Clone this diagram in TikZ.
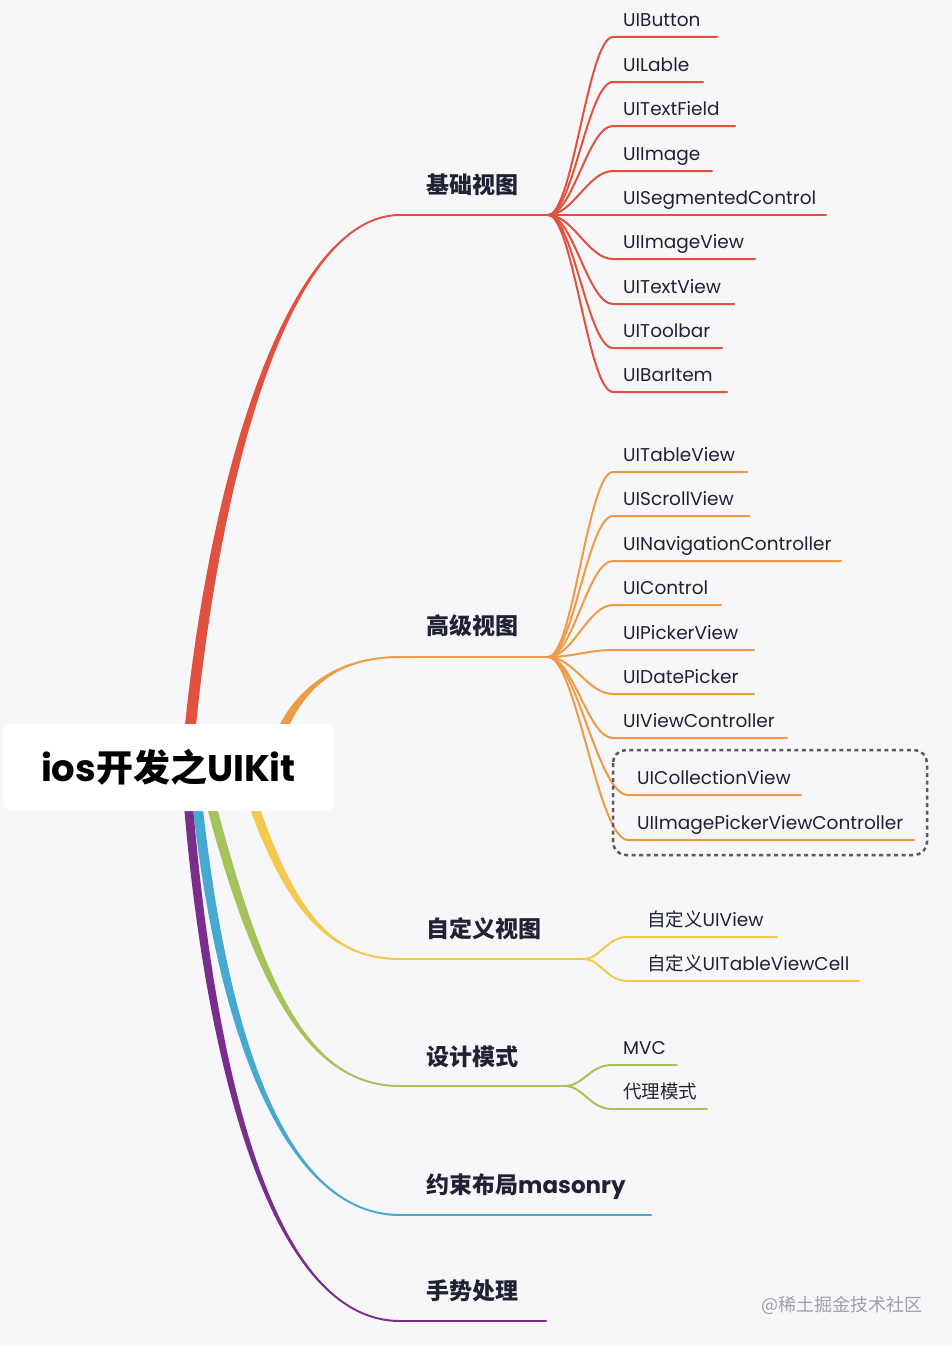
\documentclass[tikz,border=0pt]{standalone}
\usepackage{fontspec}
\setmainfont{Poppins}
\newfontfamily\cjk{Noto Sans CJK SC}
\usetikzlibrary{calc}
\definecolor{bgc}{HTML}{F7F7F9}
\definecolor{cred}{HTML}{E05140}
\definecolor{corange}{HTML}{EE9B45}
\definecolor{cyellow}{HTML}{F4C950}
\definecolor{cgreen}{HTML}{A5C25B}
\definecolor{cblue}{HTML}{47A8D0}
\definecolor{cpurple}{HTML}{7A2E8C}
\definecolor{ctext}{HTML}{1E2233}
\definecolor{cdash}{HTML}{5A5A5E}
\definecolor{cwm}{HTML}{A0A0A4}
% tapered main branch: colour, start, ctrl1, ctrl2, end, half width at start, end offsets
\newcommand\mmbranch[8]{\fill[#1] ($#2+(-#6,0)$) .. controls ($#3+(-#6,0)$) and ($#4+(0,#7)$) .. ($#5+(0,#7)$) -- ($#5+(0,#8)$) .. controls ($#4+(0,#8)$) and ($#3+(#6,0)$) .. ($#2+(#6,0)$) -- cycle;}
\tikzset{
  leaf/.style={anchor=base west, inner sep=0pt, font=\fontsize{18.5}{21}\selectfont, text=ctext},
  blabel/.style={anchor=base west, inner sep=0pt, font=\fontsize{23}{26}\selectfont\bfseries, text=ctext},
  cline/.style={line width=2pt, line cap=round},
}
\begin{document}
\begin{tikzpicture}[x=1pt,y=-1pt]
\fill[bgc] (0,0) rectangle (952,1346);
\useasboundingbox (0,0) rectangle (952,1346);

% ---------- main branches ----------
\coordinate (sR) at (190,730);
\coordinate (sO) at (281,732);
\coordinate (sY) at (252,800);
\coordinate (sG) at (210,800);
\coordinate (sB) at (197,800);
\coordinate (sP) at (188,800);
\coordinate (eR) at (400,215);
\coordinate (eO) at (400,657);
\coordinate (eY) at (400,959);
\coordinate (eG) at (400,1086);
\coordinate (eB) at (400,1215);
\coordinate (eP) at (400,1321);
\coordinate (bR) at (548,215);
\coordinate (bO) at (548,657);
\coordinate (bY) at (583,959);
\coordinate (bG) at (565,1086);
\coordinate (bB) at (651,1215);
\coordinate (bP) at (546,1321);

\mmbranch{cpurple}{(sP)}{(213,1100)}{(280,1321)}{(eP)}{4.5}{1}{-1}
\mmbranch{cblue}{(sB)}{(224,1050)}{(290,1215)}{(eB)}{5}{1}{-1}
\mmbranch{cgreen}{(sG)}{(260,990)}{(310,1086)}{(eG)}{5}{1}{-1}
\mmbranch{cyellow}{(sY)}{(290,910)}{(330,959)}{(eY)}{5}{1}{-1}
\mmbranch{corange}{(sO)}{(300,690)}{(335,657)}{(eO)}{5}{-1}{1}
\mmbranch{cred}{(sR)}{(218,450)}{(295,215)}{(eR)}{5.5}{-1}{1}

\draw[cred,cline] (eR) -- (bR);
\draw[corange,cline] (eO) -- (bO);
\draw[cyellow,cline] (eY) -- (bY);
\draw[cgreen,cline] (eG) -- (bG);
\draw[cblue,cline] (eB) -- (bB);
\draw[cpurple,cline] (eP) -- (bP);

% ---------- root ----------
\node[fill=white, rounded corners=9pt, minimum width=331pt, minimum height=87pt, inner sep=0pt,
      font=\fontsize{37}{42}\selectfont\bfseries, text=black] (root) at (168.5,767.5)
      {ios{\cjk 开发之}UIKit};

% ---------- branch labels ----------
\node[blabel] (nR) at (426,193) {\cjk 基础视图};
\node[blabel] (nO) at (426,634) {\cjk 高级视图};
\node[blabel] (nY) at (426,937) {\cjk 自定义视图};
\node[blabel] (nG) at (426,1065) {\cjk 设计模式};
\node[blabel] (nB) at (426,1193) {{\cjk 约束布局}masonry};
\node[blabel] (nP) at (426,1299) {\cjk 手势处理};

% ---------- red children ----------
\foreach \yy/\ex/\lbl [count=\i] in {37/717/UIButton, 82/703/UILable, 126/735/UITextField, 171/712/UIImage, 259/755/UIImageView, 304/734/UITextView, 348/722/UIToolbar, 392/727/UIBarItem}{
  \coordinate (r\i) at (613,\yy);
  \coordinate (re\i) at (\ex,\yy);
  \draw[cred,cline] (bR) .. controls +(25,0) and +(-25,0) .. (r\i) -- (re\i);
  \node[leaf] (rl\i) at (623,\yy-10.5) {\lbl};
}
\coordinate (rseg) at (826,215);
\draw[cred,cline] (bR) -- (rseg);
\node[leaf] (rlseg) at (623,204.5) {UISegmentedControl};

% ---------- orange children ----------
\foreach \yy/\ex/\lbl [count=\i] in {472/747/UITableView, 516/749/UIScrollView, 561/841/UINavigationController, 605/721/UIControl, 650/754/UIPickerView, 694/754/UIDatePicker, 738/787/UIViewController}{
  \coordinate (o\i) at (613,\yy);
  \coordinate (oe\i) at (\ex,\yy);
  \draw[corange,cline] (bO) .. controls +(25,0) and +(-25,0) .. (o\i) -- (oe\i);
  \node[leaf] (ol\i) at (623,\yy-10.5) {\lbl};
}
\foreach \yy/\ex/\lbl [count=\i] in {795/801/UICollectionView, 840/914/UIImagePickerViewController}{
  \coordinate (oo\i) at (628,\yy);
  \coordinate (ooe\i) at (\ex,\yy);
  \draw[corange,cline] (bO) .. controls +(28,0) and +(-30,0) .. (oo\i) -- (ooe\i);
  \node[leaf] (ool\i) at (637,\yy-10.5) {\lbl};
}
\draw[cdash, line width=2.5pt, dash pattern=on 4pt off 3.5pt, rounded corners=13pt] (613,750) rectangle (927,855);

% ---------- yellow children ----------
\coordinate (y1) at (628,937);  \coordinate (ye1) at (777,937);
\coordinate (y2) at (628,981);  \coordinate (ye2) at (859,981);
\draw[cyellow,cline] (bY) .. controls +(18,0) and +(-22,0) .. (y1) -- (ye1);
\draw[cyellow,cline] (bY) .. controls +(18,0) and +(-22,0) .. (y2) -- (ye2);
\node[leaf] (yl1) at (647,926.5) {{\cjk 自定义}UIView};
\node[leaf] (yl2) at (647,970.5) {{\cjk 自定义}UITableViewCell};

% ---------- green children ----------
\coordinate (g1) at (612,1065); \coordinate (ge1) at (677,1065);
\coordinate (g2) at (612,1109); \coordinate (ge2) at (707,1109);
\draw[cgreen,cline] (bG) .. controls +(18,0) and +(-22,0) .. (g1) -- (ge1);
\draw[cgreen,cline] (bG) .. controls +(18,0) and +(-22,0) .. (g2) -- (ge2);
\node[leaf] (gl1) at (623,1054.5) {MVC};
\node[leaf] (gl2) at (623,1098.5) {\cjk 代理模式};

% ---------- watermark ----------
\node[anchor=base west, inner sep=0pt, text=cwm, font=\fontsize{18}{20}\selectfont\cjk] (wm) at (761,1311) {@稀土掘金技术社区};
\end{tikzpicture}
\end{document}
